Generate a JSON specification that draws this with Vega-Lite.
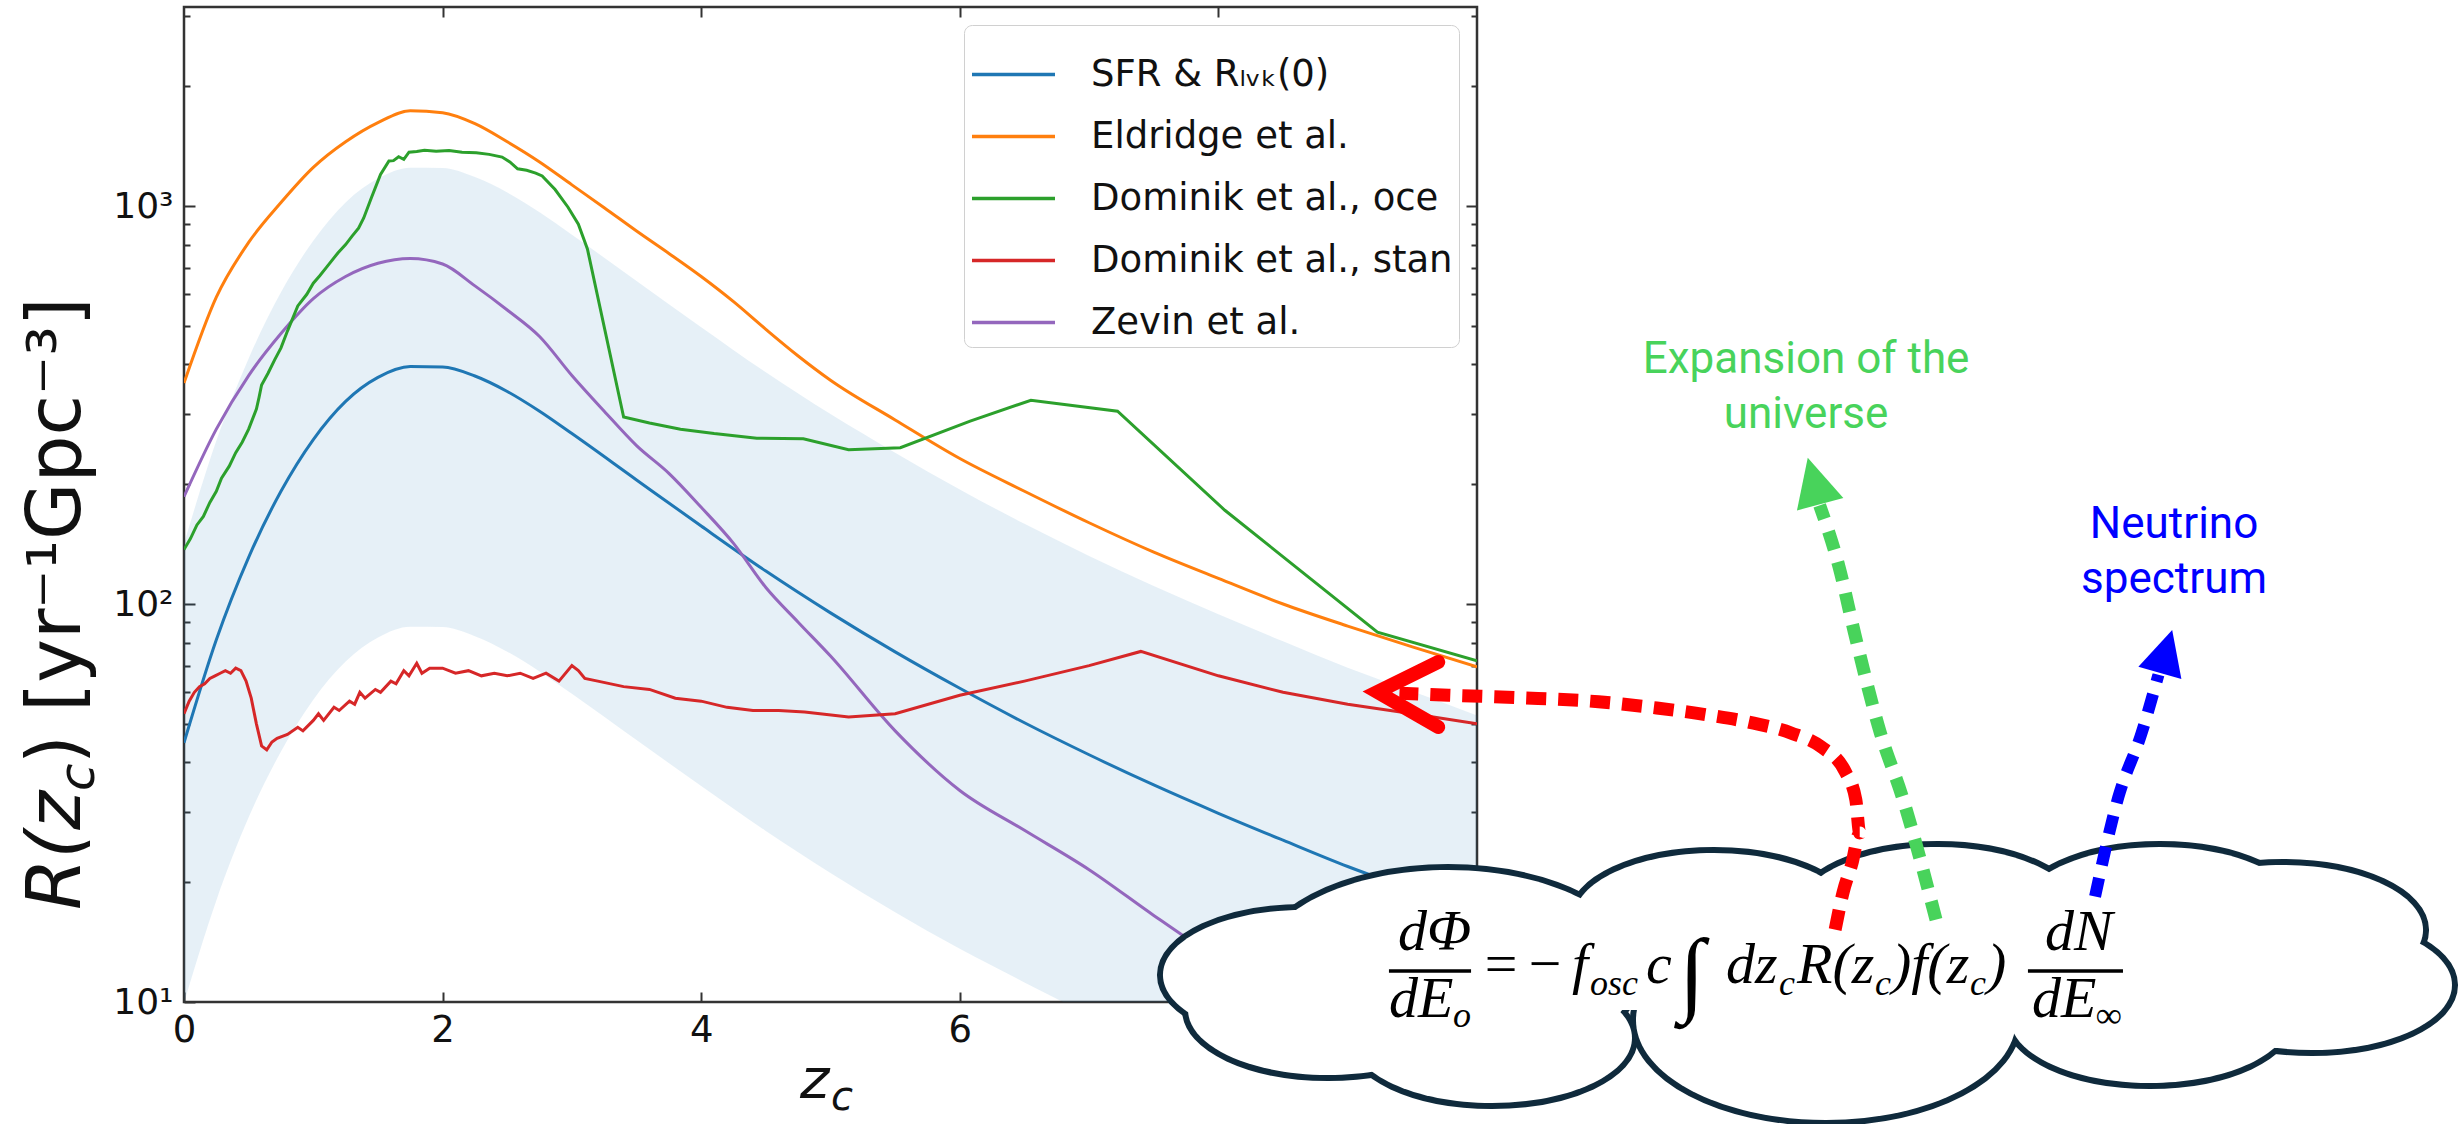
{
  "$schema": "https://vega.github.io/schema/vega-lite/v6.json",
  "width": 1293,
  "height": 995,
  "autosize": "none",
  "padding": {"left": 184, "top": 7, "right": 984, "bottom": 122},
  "background": "white",
  "config": {
    "view": {"stroke": "#333333", "strokeWidth": 2.5},
    "axis": {"grid": false}
  },
  "datasets": {
    "band": [
      {"z": 0, "lo": 9.95, "hi": 141.6}, {"z": 0.25, "lo": 18.0, "hi": 257}, {"z": 0.5, "lo": 29.1, "hi": 414},
      {"z": 0.75, "lo": 42.6, "hi": 607}, {"z": 1, "lo": 57.5, "hi": 818}, {"z": 1.25, "lo": 71.7, "hi": 1021},
      {"z": 1.5, "lo": 82.4, "hi": 1172}, {"z": 1.75, "lo": 87.7, "hi": 1248}, {"z": 2, "lo": 87.5, "hi": 1245},
      {"z": 2.25, "lo": 83.0, "hi": 1182}, {"z": 2.5, "lo": 75.9, "hi": 1081}, {"z": 2.75, "lo": 67.7, "hi": 964},
      {"z": 3, "lo": 59.5, "hi": 847}, {"z": 3.5, "lo": 45.5, "hi": 648}, {"z": 4, "lo": 34.9, "hi": 496},
      {"z": 4.5, "lo": 26.9, "hi": 382}, {"z": 5, "lo": 21.1, "hi": 300}, {"z": 5.5, "lo": 16.8, "hi": 240},
      {"z": 6, "lo": 13.6, "hi": 194}, {"z": 6.5, "lo": 11.2, "hi": 159}, {"z": 7, "lo": 9.28, "hi": 132},
      {"z": 7.5, "lo": 7.79, "hi": 111}, {"z": 8, "lo": 6.62, "hi": 94.2}, {"z": 8.5, "lo": 5.66, "hi": 80.6},
      {"z": 9, "lo": 4.86, "hi": 69.2}, {"z": 9.5, "lo": 4.24, "hi": 60.4}, {"z": 10, "lo": 3.69, "hi": 52.5}
    ],
    "series": [
      {"s": "SFR & Rₗᵥₖ(0)", "z": 0, "R": 44.8}, {"s": "SFR & Rₗᵥₖ(0)", "z": 0.25, "R": 81.3}, {"s": "SFR & Rₗᵥₖ(0)", "z": 0.5, "R": 131},
      {"s": "SFR & Rₗᵥₖ(0)", "z": 0.75, "R": 192}, {"s": "SFR & Rₗᵥₖ(0)", "z": 1, "R": 259}, {"s": "SFR & Rₗᵥₖ(0)", "z": 1.25, "R": 323},
      {"s": "SFR & Rₗᵥₖ(0)", "z": 1.5, "R": 371}, {"s": "SFR & Rₗᵥₖ(0)", "z": 1.75, "R": 395}, {"s": "SFR & Rₗᵥₖ(0)", "z": 2, "R": 394},
      {"s": "SFR & Rₗᵥₖ(0)", "z": 2.25, "R": 374}, {"s": "SFR & Rₗᵥₖ(0)", "z": 2.5, "R": 342}, {"s": "SFR & Rₗᵥₖ(0)", "z": 2.75, "R": 305},
      {"s": "SFR & Rₗᵥₖ(0)", "z": 3, "R": 268}, {"s": "SFR & Rₗᵥₖ(0)", "z": 3.5, "R": 205}, {"s": "SFR & Rₗᵥₖ(0)", "z": 4, "R": 157},
      {"s": "SFR & Rₗᵥₖ(0)", "z": 4.5, "R": 121}, {"s": "SFR & Rₗᵥₖ(0)", "z": 5, "R": 95}, {"s": "SFR & Rₗᵥₖ(0)", "z": 5.5, "R": 75.8},
      {"s": "SFR & Rₗᵥₖ(0)", "z": 6, "R": 61.4}, {"s": "SFR & Rₗᵥₖ(0)", "z": 6.5, "R": 50.3}, {"s": "SFR & Rₗᵥₖ(0)", "z": 7, "R": 41.8},
      {"s": "SFR & Rₗᵥₖ(0)", "z": 7.5, "R": 35.1}, {"s": "SFR & Rₗᵥₖ(0)", "z": 8, "R": 29.8}, {"s": "SFR & Rₗᵥₖ(0)", "z": 8.5, "R": 25.5},
      {"s": "SFR & Rₗᵥₖ(0)", "z": 9, "R": 21.9}, {"s": "SFR & Rₗᵥₖ(0)", "z": 9.5, "R": 19.1}, {"s": "SFR & Rₗᵥₖ(0)", "z": 10, "R": 16.6},

      {"s": "Eldridge et al.", "z": 0, "R": 359}, {"s": "Eldridge et al.", "z": 0.25, "R": 590}, {"s": "Eldridge et al.", "z": 0.5, "R": 810},
      {"s": "Eldridge et al.", "z": 0.75, "R": 1020}, {"s": "Eldridge et al.", "z": 1, "R": 1250}, {"s": "Eldridge et al.", "z": 1.25, "R": 1450},
      {"s": "Eldridge et al.", "z": 1.5, "R": 1620}, {"s": "Eldridge et al.", "z": 1.75, "R": 1735}, {"s": "Eldridge et al.", "z": 2, "R": 1715},
      {"s": "Eldridge et al.", "z": 2.25, "R": 1610}, {"s": "Eldridge et al.", "z": 2.5, "R": 1450}, {"s": "Eldridge et al.", "z": 2.75, "R": 1290},
      {"s": "Eldridge et al.", "z": 3, "R": 1130}, {"s": "Eldridge et al.", "z": 3.25, "R": 990}, {"s": "Eldridge et al.", "z": 3.5, "R": 865},
      {"s": "Eldridge et al.", "z": 3.75, "R": 760}, {"s": "Eldridge et al.", "z": 4, "R": 665}, {"s": "Eldridge et al.", "z": 4.25, "R": 575},
      {"s": "Eldridge et al.", "z": 4.5, "R": 490}, {"s": "Eldridge et al.", "z": 4.75, "R": 420}, {"s": "Eldridge et al.", "z": 5, "R": 365},
      {"s": "Eldridge et al.", "z": 5.5, "R": 290}, {"s": "Eldridge et al.", "z": 6, "R": 232}, {"s": "Eldridge et al.", "z": 6.5, "R": 192},
      {"s": "Eldridge et al.", "z": 7, "R": 160}, {"s": "Eldridge et al.", "z": 7.5, "R": 135}, {"s": "Eldridge et al.", "z": 8, "R": 116},
      {"s": "Eldridge et al.", "z": 8.5, "R": 100}, {"s": "Eldridge et al.", "z": 9, "R": 88}, {"s": "Eldridge et al.", "z": 9.5, "R": 78},
      {"s": "Eldridge et al.", "z": 10, "R": 69.5},

      {"s": "Dominik et al., oce", "z": 0, "R": 137}, {"s": "Dominik et al., oce", "z": 0.05, "R": 146}, {"s": "Dominik et al., oce", "z": 0.1, "R": 158},
      {"s": "Dominik et al., oce", "z": 0.15, "R": 166}, {"s": "Dominik et al., oce", "z": 0.2, "R": 180}, {"s": "Dominik et al., oce", "z": 0.25, "R": 192},
      {"s": "Dominik et al., oce", "z": 0.29, "R": 207}, {"s": "Dominik et al., oce", "z": 0.35, "R": 222}, {"s": "Dominik et al., oce", "z": 0.4, "R": 240},
      {"s": "Dominik et al., oce", "z": 0.45, "R": 255}, {"s": "Dominik et al., oce", "z": 0.5, "R": 275}, {"s": "Dominik et al., oce", "z": 0.56, "R": 309},
      {"s": "Dominik et al., oce", "z": 0.58, "R": 330}, {"s": "Dominik et al., oce", "z": 0.6, "R": 355}, {"s": "Dominik et al., oce", "z": 0.65, "R": 380},
      {"s": "Dominik et al., oce", "z": 0.7, "R": 410}, {"s": "Dominik et al., oce", "z": 0.75, "R": 440}, {"s": "Dominik et al., oce", "z": 0.8, "R": 485},
      {"s": "Dominik et al., oce", "z": 0.88, "R": 561}, {"s": "Dominik et al., oce", "z": 0.95, "R": 600}, {"s": "Dominik et al., oce", "z": 1.0, "R": 640},
      {"s": "Dominik et al., oce", "z": 1.05, "R": 668}, {"s": "Dominik et al., oce", "z": 1.1, "R": 700}, {"s": "Dominik et al., oce", "z": 1.19, "R": 762},
      {"s": "Dominik et al., oce", "z": 1.25, "R": 800}, {"s": "Dominik et al., oce", "z": 1.3, "R": 840}, {"s": "Dominik et al., oce", "z": 1.35, "R": 880},
      {"s": "Dominik et al., oce", "z": 1.39, "R": 933}, {"s": "Dominik et al., oce", "z": 1.45, "R": 1050}, {"s": "Dominik et al., oce", "z": 1.52, "R": 1200},
      {"s": "Dominik et al., oce", "z": 1.585, "R": 1297}, {"s": "Dominik et al., oce", "z": 1.62, "R": 1300}, {"s": "Dominik et al., oce", "z": 1.66, "R": 1330},
      {"s": "Dominik et al., oce", "z": 1.7, "R": 1310}, {"s": "Dominik et al., oce", "z": 1.74, "R": 1365}, {"s": "Dominik et al., oce", "z": 1.8, "R": 1370},
      {"s": "Dominik et al., oce", "z": 1.86, "R": 1380}, {"s": "Dominik et al., oce", "z": 1.95, "R": 1372}, {"s": "Dominik et al., oce", "z": 2.05, "R": 1378},
      {"s": "Dominik et al., oce", "z": 2.15, "R": 1365}, {"s": "Dominik et al., oce", "z": 2.26, "R": 1360}, {"s": "Dominik et al., oce", "z": 2.36, "R": 1348},
      {"s": "Dominik et al., oce", "z": 2.46, "R": 1327}, {"s": "Dominik et al., oce", "z": 2.52, "R": 1290}, {"s": "Dominik et al., oce", "z": 2.58, "R": 1240},
      {"s": "Dominik et al., oce", "z": 2.65, "R": 1230}, {"s": "Dominik et al., oce", "z": 2.72, "R": 1210}, {"s": "Dominik et al., oce", "z": 2.77, "R": 1190},
      {"s": "Dominik et al., oce", "z": 2.87, "R": 1100}, {"s": "Dominik et al., oce", "z": 2.97, "R": 993}, {"s": "Dominik et al., oce", "z": 3.05, "R": 900},
      {"s": "Dominik et al., oce", "z": 3.12, "R": 780}, {"s": "Dominik et al., oce", "z": 3.4, "R": 295}, {"s": "Dominik et al., oce", "z": 3.6, "R": 285},
      {"s": "Dominik et al., oce", "z": 3.84, "R": 275}, {"s": "Dominik et al., oce", "z": 4.1, "R": 268}, {"s": "Dominik et al., oce", "z": 4.43, "R": 261},
      {"s": "Dominik et al., oce", "z": 4.79, "R": 260}, {"s": "Dominik et al., oce", "z": 5.14, "R": 244}, {"s": "Dominik et al., oce", "z": 5.54, "R": 247},
      {"s": "Dominik et al., oce", "z": 6.08, "R": 288}, {"s": "Dominik et al., oce", "z": 6.55, "R": 325}, {"s": "Dominik et al., oce", "z": 7.22, "R": 305},
      {"s": "Dominik et al., oce", "z": 8.05, "R": 172}, {"s": "Dominik et al., oce", "z": 9.23, "R": 85}, {"s": "Dominik et al., oce", "z": 10, "R": 72},

      {"s": "Dominik et al., stan", "z": 0, "R": 53}, {"s": "Dominik et al., stan", "z": 0.04, "R": 57}, {"s": "Dominik et al., stan", "z": 0.08, "R": 60},
      {"s": "Dominik et al., stan", "z": 0.12, "R": 62}, {"s": "Dominik et al., stan", "z": 0.16, "R": 63}, {"s": "Dominik et al., stan", "z": 0.2, "R": 65},
      {"s": "Dominik et al., stan", "z": 0.24, "R": 66}, {"s": "Dominik et al., stan", "z": 0.28, "R": 67}, {"s": "Dominik et al., stan", "z": 0.32, "R": 68},
      {"s": "Dominik et al., stan", "z": 0.36, "R": 67}, {"s": "Dominik et al., stan", "z": 0.4, "R": 69}, {"s": "Dominik et al., stan", "z": 0.44, "R": 68},
      {"s": "Dominik et al., stan", "z": 0.48, "R": 64}, {"s": "Dominik et al., stan", "z": 0.52, "R": 58}, {"s": "Dominik et al., stan", "z": 0.56, "R": 50},
      {"s": "Dominik et al., stan", "z": 0.6, "R": 44}, {"s": "Dominik et al., stan", "z": 0.64, "R": 43}, {"s": "Dominik et al., stan", "z": 0.68, "R": 45},
      {"s": "Dominik et al., stan", "z": 0.72, "R": 46}, {"s": "Dominik et al., stan", "z": 0.8, "R": 47}, {"s": "Dominik et al., stan", "z": 0.88, "R": 49},
      {"s": "Dominik et al., stan", "z": 0.92, "R": 48}, {"s": "Dominik et al., stan", "z": 1.0, "R": 51}, {"s": "Dominik et al., stan", "z": 1.04, "R": 53},
      {"s": "Dominik et al., stan", "z": 1.08, "R": 51}, {"s": "Dominik et al., stan", "z": 1.16, "R": 55}, {"s": "Dominik et al., stan", "z": 1.2, "R": 54},
      {"s": "Dominik et al., stan", "z": 1.28, "R": 57}, {"s": "Dominik et al., stan", "z": 1.32, "R": 56}, {"s": "Dominik et al., stan", "z": 1.36, "R": 60},
      {"s": "Dominik et al., stan", "z": 1.4, "R": 58}, {"s": "Dominik et al., stan", "z": 1.48, "R": 61}, {"s": "Dominik et al., stan", "z": 1.52, "R": 60},
      {"s": "Dominik et al., stan", "z": 1.6, "R": 64}, {"s": "Dominik et al., stan", "z": 1.64, "R": 63}, {"s": "Dominik et al., stan", "z": 1.7, "R": 68},
      {"s": "Dominik et al., stan", "z": 1.74, "R": 66}, {"s": "Dominik et al., stan", "z": 1.8, "R": 71}, {"s": "Dominik et al., stan", "z": 1.84, "R": 67},
      {"s": "Dominik et al., stan", "z": 1.9, "R": 69}, {"s": "Dominik et al., stan", "z": 2.0, "R": 69}, {"s": "Dominik et al., stan", "z": 2.1, "R": 67},
      {"s": "Dominik et al., stan", "z": 2.2, "R": 68}, {"s": "Dominik et al., stan", "z": 2.3, "R": 66}, {"s": "Dominik et al., stan", "z": 2.4, "R": 67},
      {"s": "Dominik et al., stan", "z": 2.5, "R": 66}, {"s": "Dominik et al., stan", "z": 2.6, "R": 67}, {"s": "Dominik et al., stan", "z": 2.7, "R": 65},
      {"s": "Dominik et al., stan", "z": 2.8, "R": 67}, {"s": "Dominik et al., stan", "z": 2.9, "R": 64}, {"s": "Dominik et al., stan", "z": 3.0, "R": 70},
      {"s": "Dominik et al., stan", "z": 3.05, "R": 68}, {"s": "Dominik et al., stan", "z": 3.1, "R": 65}, {"s": "Dominik et al., stan", "z": 3.2, "R": 64},
      {"s": "Dominik et al., stan", "z": 3.4, "R": 62}, {"s": "Dominik et al., stan", "z": 3.6, "R": 61}, {"s": "Dominik et al., stan", "z": 3.8, "R": 58},
      {"s": "Dominik et al., stan", "z": 4.0, "R": 57}, {"s": "Dominik et al., stan", "z": 4.2, "R": 55}, {"s": "Dominik et al., stan", "z": 4.4, "R": 54},
      {"s": "Dominik et al., stan", "z": 4.6, "R": 54}, {"s": "Dominik et al., stan", "z": 4.8, "R": 53.5}, {"s": "Dominik et al., stan", "z": 5.14, "R": 52},
      {"s": "Dominik et al., stan", "z": 5.5, "R": 53}, {"s": "Dominik et al., stan", "z": 6.0, "R": 59}, {"s": "Dominik et al., stan", "z": 6.5, "R": 64},
      {"s": "Dominik et al., stan", "z": 7.0, "R": 70}, {"s": "Dominik et al., stan", "z": 7.4, "R": 76}, {"s": "Dominik et al., stan", "z": 8.0, "R": 66},
      {"s": "Dominik et al., stan", "z": 8.5, "R": 60}, {"s": "Dominik et al., stan", "z": 9.0, "R": 56}, {"s": "Dominik et al., stan", "z": 9.5, "R": 53},
      {"s": "Dominik et al., stan", "z": 10, "R": 50},

      {"s": "Zevin et al.", "z": 0, "R": 186}, {"s": "Zevin et al.", "z": 0.25, "R": 275}, {"s": "Zevin et al.", "z": 0.5, "R": 375},
      {"s": "Zevin et al.", "z": 0.75, "R": 478}, {"s": "Zevin et al.", "z": 1, "R": 585}, {"s": "Zevin et al.", "z": 1.25, "R": 665},
      {"s": "Zevin et al.", "z": 1.5, "R": 718}, {"s": "Zevin et al.", "z": 1.75, "R": 738}, {"s": "Zevin et al.", "z": 2, "R": 715},
      {"s": "Zevin et al.", "z": 2.25, "R": 630}, {"s": "Zevin et al.", "z": 2.5, "R": 548}, {"s": "Zevin et al.", "z": 2.75, "R": 470},
      {"s": "Zevin et al.", "z": 3, "R": 375}, {"s": "Zevin et al.", "z": 3.25, "R": 305}, {"s": "Zevin et al.", "z": 3.5, "R": 250},
      {"s": "Zevin et al.", "z": 3.75, "R": 213}, {"s": "Zevin et al.", "z": 4, "R": 175}, {"s": "Zevin et al.", "z": 4.25, "R": 142},
      {"s": "Zevin et al.", "z": 4.5, "R": 110}, {"s": "Zevin et al.", "z": 4.75, "R": 90}, {"s": "Zevin et al.", "z": 5, "R": 74},
      {"s": "Zevin et al.", "z": 5.5, "R": 48}, {"s": "Zevin et al.", "z": 6, "R": 34}, {"s": "Zevin et al.", "z": 6.5, "R": 27},
      {"s": "Zevin et al.", "z": 7, "R": 21.5}, {"s": "Zevin et al.", "z": 7.5, "R": 16.5}, {"s": "Zevin et al.", "z": 8, "R": 12.8},
      {"s": "Zevin et al.", "z": 8.5, "R": 10.2}, {"s": "Zevin et al.", "z": 9, "R": 8.2}
    ],
    "cloudS": [
      {"z": 8.654, "R": 11.69}, {"z": 8.848, "R": 9.548}, {"z": 10.116, "R": 8.12}, {"z": 15.205, "R": 9.117},
      {"z": 16.458, "R": 11.03}, {"z": 16.234, "R": 15.17}, {"z": 15.282, "R": 16.83}, {"z": 13.565, "R": 16.83},
      {"z": 11.833, "R": 16.26}
    ],
    "cloudB": [{"z": 9.776, "R": 12.03}, {"z": 12.699, "R": 9.01}],
    "cloudRect": [{"z": 9.018, "z2": 16.365, "R": 14.31, "R2": 9.548}],
    "eqMain": [
      {"t": "dΦ", "z": 9.389, "R": 13.51}, {"t": "dE", "z": 9.319, "R": 9.17},
      {"t": "=", "z": 10.03, "R": 11.16}, {"t": "−", "z": 10.37, "R": 11.16}, {"t": "f", "z": 10.735, "R": 11.16},
      {"t": "c", "z": 11.307, "R": 11.16}, {"t": "dz", "z": 11.926, "R": 11.16},
      {"t": "R(z", "z": 12.475, "R": 11.16}, {"t": ")f(z", "z": 13.209, "R": 11.16},
      {"t": ")", "z": 13.944, "R": 11.16}, {"t": "dN", "z": 14.393, "R": 13.51},
      {"t": "dE", "z": 14.292, "R": 9.17}
    ],
    "eqSub": [
      {"t": "o", "z": 9.814, "R": 8.65}, {"t": "osc", "z": 10.874, "R": 10.41},
      {"t": "c", "z": 12.335, "R": 10.41}, {"t": "c", "z": 13.078, "R": 10.41},
      {"t": "c", "z": 13.813, "R": 10.41}, {"t": "∞", "z": 14.787, "R": 8.65}
    ],
    "eqInt": [{"t": "∫", "z": 11.562, "R": 9.885}],
    "eqBars": [{"z": 9.319, "z2": 9.954, "R": 11.96}, {"z": 14.261, "z2": 14.996, "R": 11.96}],
    "arrR": [
      {"i": 0, "z": 12.77, "R": 15.2}, {"i": 1, "z": 12.83, "R": 18.8}, {"i": 2, "z": 12.9, "R": 22.3},
      {"i": 3, "z": 12.96, "R": 26.6}, {"i": 4, "z": 12.93, "R": 32.2}, {"i": 5, "z": 12.85, "R": 37.8},
      {"i": 6, "z": 12.66, "R": 43.8}, {"i": 7, "z": 12.43, "R": 47.4}, {"i": 8, "z": 12.14, "R": 50.2},
      {"i": 9, "z": 11.79, "R": 52.6}, {"i": 10, "z": 11.39, "R": 54.8}, {"i": 11, "z": 10.94, "R": 56.8},
      {"i": 12, "z": 10.36, "R": 58.1}, {"i": 13, "z": 9.78, "R": 59.0}, {"i": 14, "z": 9.4, "R": 59.7}
    ],
    "chev": [{"i": 0, "z": 9.7, "R": 71.5}, {"i": 1, "z": 9.23, "R": 60.1}, {"i": 2, "z": 9.7, "R": 49.1}],
    "arrG": [
      {"i": 0, "z": 13.55, "R": 16.1}, {"i": 1, "z": 13.29, "R": 32.7}, {"i": 2, "z": 13.12, "R": 47.4},
      {"i": 3, "z": 12.92, "R": 84.5}, {"i": 4, "z": 12.8, "R": 124}, {"i": 5, "z": 12.65, "R": 177}
    ],
    "arrB": [
      {"i": 0, "z": 14.78, "R": 18.4}, {"i": 1, "z": 14.96, "R": 32.7}, {"i": 2, "z": 15.14, "R": 47.4},
      {"i": 3, "z": 15.27, "R": 66.4}
    ],
    "headG": [{"z": 12.606, "R": 203.7}],
    "headB": [{"z": 15.329, "R": 76.0}],
    "txtG": [{"t": "Expansion of the", "z": 12.545, "R": 380.5}, {"t": "universe", "z": 12.545, "R": 276.8}],
    "txtB": [{"t": "Neutrino", "z": 15.391, "R": 146.5}, {"t": "spectrum", "z": 15.391, "R": 106.6}],
    "ttlYit": [{"t": "R(z", "z": -0.804, "R": 17.03}],
    "ttlYsub": [{"t": "c", "z": -0.696, "R": 33.9}],
    "ttlYup": [{"t": ") [yr⁻¹Gpc⁻³]", "z": -0.804, "R": 39.6}],
    "ttlX": [{"t": "z", "z": 4.764, "R": 5.74}],
    "ttlXsub": [{"t": "c", "z": 5.004, "R": 5.355}]
  },
  "layer": [
    {
      "data": {"name": "band"},
      "mark": {"type": "area", "color": "#1f77b4", "opacity": 0.11, "clip": true, "interpolate": "monotone"},
      "encoding": {
        "x": {"field": "z", "type": "quantitative", "scale": {"domain": [0, 10], "nice": false, "zero": false},
          "axis": {"orient": "bottom", "values": [0, 2, 4, 6, 8], "title": null, "domain": false, "tickSize": -10, "tickWidth": 2,
            "tickColor": "#333333", "labelPadding": 20, "labelFont": "DejaVu Sans", "labelFontSize": 37, "labelColor": "#111111",
            "labelFlush": false, "labelOverlap": false}},
        "y": {"field": "lo", "type": "quantitative", "scale": {"type": "log", "domain": [10, 3162.28], "nice": false},
          "axis": {"orient": "left", "values": [10, 20, 30, 40, 50, 60, 70, 80, 90, 100, 200, 300, 400, 500, 600, 700, 800, 900, 1000, 2000, 3000],
            "title": null, "domain": false,
            "tickSize": {"condition": {"test": "datum.value === 10 || datum.value === 100 || datum.value === 1000", "value": -11}, "value": -6},
            "tickWidth": 2, "tickColor": "#333333", "labelPadding": 22,
            "labelExpr": "datum.value === 10 ? '10¹' : datum.value === 100 ? '10²' : datum.value === 1000 ? '10³' : ''",
            "labelFont": "DejaVu Sans", "labelFontSize": 36, "labelColor": "#111111", "labelFlush": false, "labelOverlap": false}},
        "y2": {"field": "hi"}
      }
    },
    {
      "data": {"name": "band"},
      "mark": {"type": "point", "opacity": 0},
      "encoding": {
        "x": {"field": "z", "type": "quantitative", "scale": {"domain": [0, 10], "nice": false, "zero": false},
          "axis": {"orient": "top", "values": [2, 4, 6, 8], "title": null, "domain": false, "labels": false, "tickSize": -10, "tickWidth": 2, "tickColor": "#333333"}},
        "y": {"field": "hi", "type": "quantitative", "scale": {"type": "log", "domain": [10, 3162.28], "nice": false},
          "axis": {"orient": "right", "values": [10, 20, 30, 40, 50, 60, 70, 80, 90, 100, 200, 300, 400, 500, 600, 700, 800, 900, 1000, 2000, 3000],
            "title": null, "domain": false, "labels": false,
            "tickSize": {"condition": {"test": "datum.value === 10 || datum.value === 100 || datum.value === 1000", "value": -11}, "value": -6},
            "tickWidth": 2, "tickColor": "#333333"}}
      }
    },
    {
      "data": {"name": "series"},
      "transform": [{"filter": {"field": "s", "oneOf": ["SFR & Rₗᵥₖ(0)", "Eldridge et al.", "Zevin et al."]}}],
      "mark": {"type": "line", "strokeWidth": 3, "clip": true, "interpolate": "monotone"},
      "encoding": {
        "x": {"field": "z", "type": "quantitative", "scale": {"domain": [0, 10], "nice": false, "zero": false}, "axis": null},
        "y": {"field": "R", "type": "quantitative", "scale": {"type": "log", "domain": [10, 3162.28], "nice": false}, "axis": null},
        "color": {"field": "s", "type": "nominal",
          "scale": {"domain": ["SFR & Rₗᵥₖ(0)", "Eldridge et al.", "Dominik et al., oce", "Dominik et al., stan", "Zevin et al."],
            "range": ["#1f77b4", "#ff7f0e", "#2ca02c", "#d62728", "#9467bd"]},
          "legend": {"title": null, "orient": "top-right", "offset": 18, "labelFont": "DejaVu Sans", "labelFontSize": 37,
            "labelColor": "#111111", "symbolType": "stroke", "symbolSize": 6889, "symbolStrokeWidth": 3.5, "rowPadding": -8,
            "padding": 6, "fillColor": "#ffffff", "strokeColor": "#d0d0d0", "cornerRadius": 8, "labelOffset": 34, "labelLimit": 700}}
      }
    },
    {
      "data": {"name": "series"},
      "transform": [{"filter": {"field": "s", "oneOf": ["Dominik et al., oce", "Dominik et al., stan"]}}],
      "mark": {"type": "line", "strokeWidth": 3, "clip": true},
      "encoding": {
        "x": {"field": "z", "type": "quantitative", "scale": {"domain": [0, 10], "nice": false, "zero": false}, "axis": null},
        "y": {"field": "R", "type": "quantitative", "scale": {"type": "log", "domain": [10, 3162.28], "nice": false}, "axis": null},
        "color": {"field": "s", "type": "nominal",
          "scale": {"domain": ["SFR & Rₗᵥₖ(0)", "Eldridge et al.", "Dominik et al., oce", "Dominik et al., stan", "Zevin et al."],
            "range": ["#1f77b4", "#ff7f0e", "#2ca02c", "#d62728", "#9467bd"]},
          "legend": {"title": null, "orient": "top-right", "offset": 18, "labelFont": "DejaVu Sans", "labelFontSize": 37,
            "labelColor": "#111111", "symbolType": "stroke", "symbolSize": 6889, "symbolStrokeWidth": 3.5, "rowPadding": -8,
            "padding": 6, "fillColor": "#ffffff", "strokeColor": "#d0d0d0", "cornerRadius": 8, "labelOffset": 34, "labelLimit": 700}}
      }
    },
    {
      "data": {"name": "ttlYit"},
      "mark": {"type": "text", "font": "DejaVu Sans", "fontSize": 74, "fontStyle": "italic", "angle": 270, "align": "left", "baseline": "alphabetic", "color": "#111111"},
      "encoding": {
        "x": {"field": "z", "type": "quantitative", "scale": {"domain": [0, 10], "nice": false, "zero": false}, "axis": null},
        "y": {"field": "R", "type": "quantitative", "scale": {"type": "log", "domain": [10, 3162.28], "nice": false}, "axis": null},
        "text": {"field": "t"}
      }
    },
    {
      "data": {"name": "ttlYsub"},
      "mark": {"type": "text", "font": "DejaVu Sans", "fontSize": 50, "fontStyle": "italic", "angle": 270, "align": "left", "baseline": "alphabetic", "color": "#111111"},
      "encoding": {
        "x": {"field": "z", "type": "quantitative", "scale": {"domain": [0, 10], "nice": false, "zero": false}, "axis": null},
        "y": {"field": "R", "type": "quantitative", "scale": {"type": "log", "domain": [10, 3162.28], "nice": false}, "axis": null},
        "text": {"field": "t"}
      }
    },
    {
      "data": {"name": "ttlYup"},
      "mark": {"type": "text", "font": "DejaVu Sans", "fontSize": 74, "angle": 270, "align": "left", "baseline": "alphabetic", "color": "#111111"},
      "encoding": {
        "x": {"field": "z", "type": "quantitative", "scale": {"domain": [0, 10], "nice": false, "zero": false}, "axis": null},
        "y": {"field": "R", "type": "quantitative", "scale": {"type": "log", "domain": [10, 3162.28], "nice": false}, "axis": null},
        "text": {"field": "t"}
      }
    },
    {
      "data": {"name": "ttlX"},
      "mark": {"type": "text", "font": "DejaVu Sans", "fontSize": 56, "fontStyle": "italic", "align": "left", "baseline": "alphabetic", "color": "#111111"},
      "encoding": {
        "x": {"field": "z", "type": "quantitative", "scale": {"domain": [0, 10], "nice": false, "zero": false}, "axis": null},
        "y": {"field": "R", "type": "quantitative", "scale": {"type": "log", "domain": [10, 3162.28], "nice": false}, "axis": null},
        "text": {"field": "t"}
      }
    },
    {
      "data": {"name": "ttlXsub"},
      "mark": {"type": "text", "font": "DejaVu Sans", "fontSize": 40, "fontStyle": "italic", "align": "left", "baseline": "alphabetic", "color": "#111111"},
      "encoding": {
        "x": {"field": "z", "type": "quantitative", "scale": {"domain": [0, 10], "nice": false, "zero": false}, "axis": null},
        "y": {"field": "R", "type": "quantitative", "scale": {"type": "log", "domain": [10, 3162.28], "nice": false}, "axis": null},
        "text": {"field": "t"}
      }
    },
    {
      "data": {"name": "cloudS"},
      "mark": {"type": "point", "shape": "M-1,0C-1,-0.2564,-0.5523,-0.4643,0,-0.4643C0.5523,-0.4643,1,-0.2564,1,0C1,0.2564,0.5523,0.4643,0,0.4643C-0.5523,0.4643,-1,0.2564,-1,0Z",
        "size": 78400, "filled": true, "fill": "#ffffff", "stroke": "#0f2a3c", "strokeWidth": 12, "opacity": 1, "fillOpacity": 1, "strokeOpacity": 1},
      "encoding": {
        "x": {"field": "z", "type": "quantitative", "scale": {"domain": [0, 10], "nice": false, "zero": false}, "axis": null},
        "y": {"field": "R", "type": "quantitative", "scale": {"type": "log", "domain": [10, 3162.28], "nice": false}, "axis": null}
      }
    },
    {
      "data": {"name": "cloudB"},
      "mark": {"type": "point", "shape": "M-1,0C-1,-0.2907,-0.5523,-0.5263,0,-0.5263C0.5523,-0.5263,1,-0.2907,1,0C1,0.2907,0.5523,0.5263,0,0.5263C-0.5523,0.5263,-1,0.2907,-1,0Z",
        "size": 144400, "filled": true, "fill": "#ffffff", "stroke": "#0f2a3c", "strokeWidth": 12, "opacity": 1, "fillOpacity": 1, "strokeOpacity": 1},
      "encoding": {
        "x": {"field": "z", "type": "quantitative", "scale": {"domain": [0, 10], "nice": false, "zero": false}, "axis": null},
        "y": {"field": "R", "type": "quantitative", "scale": {"type": "log", "domain": [10, 3162.28], "nice": false}, "axis": null}
      }
    },
    {
      "data": {"name": "cloudS"},
      "mark": {"type": "point", "shape": "M-1,0C-1,-0.2564,-0.5523,-0.4643,0,-0.4643C0.5523,-0.4643,1,-0.2564,1,0C1,0.2564,0.5523,0.4643,0,0.4643C-0.5523,0.4643,-1,0.2564,-1,0Z",
        "size": 78400, "filled": true, "fill": "#ffffff", "strokeWidth": 0, "opacity": 1, "fillOpacity": 1},
      "encoding": {
        "x": {"field": "z", "type": "quantitative", "scale": {"domain": [0, 10], "nice": false, "zero": false}, "axis": null},
        "y": {"field": "R", "type": "quantitative", "scale": {"type": "log", "domain": [10, 3162.28], "nice": false}, "axis": null}
      }
    },
    {
      "data": {"name": "cloudB"},
      "mark": {"type": "point", "shape": "M-1,0C-1,-0.2907,-0.5523,-0.5263,0,-0.5263C0.5523,-0.5263,1,-0.2907,1,0C1,0.2907,0.5523,0.5263,0,0.5263C-0.5523,0.5263,-1,0.2907,-1,0Z",
        "size": 144400, "filled": true, "fill": "#ffffff", "strokeWidth": 0, "opacity": 1, "fillOpacity": 1},
      "encoding": {
        "x": {"field": "z", "type": "quantitative", "scale": {"domain": [0, 10], "nice": false, "zero": false}, "axis": null},
        "y": {"field": "R", "type": "quantitative", "scale": {"type": "log", "domain": [10, 3162.28], "nice": false}, "axis": null}
      }
    },
    {
      "data": {"name": "cloudRect"},
      "mark": {"type": "rect", "fill": "#ffffff", "opacity": 1},
      "encoding": {
        "x": {"field": "z", "type": "quantitative", "scale": {"domain": [0, 10], "nice": false, "zero": false}, "axis": null},
        "x2": {"field": "z2"},
        "y": {"field": "R", "type": "quantitative", "scale": {"type": "log", "domain": [10, 3162.28], "nice": false}, "axis": null},
        "y2": {"field": "R2"}
      }
    },
    {
      "data": {"name": "eqMain"},
      "mark": {"type": "text", "font": "Liberation Serif", "fontSize": 58, "fontStyle": "italic", "align": "left", "baseline": "alphabetic", "color": "#000000"},
      "encoding": {
        "x": {"field": "z", "type": "quantitative", "scale": {"domain": [0, 10], "nice": false, "zero": false}, "axis": null},
        "y": {"field": "R", "type": "quantitative", "scale": {"type": "log", "domain": [10, 3162.28], "nice": false}, "axis": null},
        "text": {"field": "t"}
      }
    },
    {
      "data": {"name": "eqSub"},
      "mark": {"type": "text", "font": "Liberation Serif", "fontSize": 36, "fontStyle": "italic", "align": "left", "baseline": "alphabetic", "color": "#000000"},
      "encoding": {
        "x": {"field": "z", "type": "quantitative", "scale": {"domain": [0, 10], "nice": false, "zero": false}, "axis": null},
        "y": {"field": "R", "type": "quantitative", "scale": {"type": "log", "domain": [10, 3162.28], "nice": false}, "axis": null},
        "text": {"field": "t"}
      }
    },
    {
      "data": {"name": "eqInt"},
      "mark": {"type": "text", "font": "Liberation Serif", "fontSize": 94, "align": "left", "baseline": "alphabetic", "color": "#000000"},
      "encoding": {
        "x": {"field": "z", "type": "quantitative", "scale": {"domain": [0, 10], "nice": false, "zero": false}, "axis": null},
        "y": {"field": "R", "type": "quantitative", "scale": {"type": "log", "domain": [10, 3162.28], "nice": false}, "axis": null},
        "text": {"field": "t"}
      }
    },
    {
      "data": {"name": "eqBars"},
      "mark": {"type": "rule", "color": "#000000", "strokeWidth": 3.5},
      "encoding": {
        "x": {"field": "z", "type": "quantitative", "scale": {"domain": [0, 10], "nice": false, "zero": false}, "axis": null},
        "x2": {"field": "z2"},
        "y": {"field": "R", "type": "quantitative", "scale": {"type": "log", "domain": [10, 3162.28], "nice": false}, "axis": null}
      }
    },
    {
      "data": {"name": "arrR"},
      "mark": {"type": "line", "color": "#ff0000", "strokeWidth": 13, "strokeDash": [20, 12], "interpolate": "monotone"},
      "encoding": {
        "x": {"field": "z", "type": "quantitative", "scale": {"domain": [0, 10], "nice": false, "zero": false}, "axis": null},
        "y": {"field": "R", "type": "quantitative", "scale": {"type": "log", "domain": [10, 3162.28], "nice": false}, "axis": null},
        "order": {"field": "i", "type": "quantitative"}
      }
    },
    {
      "data": {"name": "chev"},
      "mark": {"type": "line", "color": "#ff0000", "strokeWidth": 14, "strokeCap": "round", "strokeJoin": "miter"},
      "encoding": {
        "x": {"field": "z", "type": "quantitative", "scale": {"domain": [0, 10], "nice": false, "zero": false}, "axis": null},
        "y": {"field": "R", "type": "quantitative", "scale": {"type": "log", "domain": [10, 3162.28], "nice": false}, "axis": null},
        "order": {"field": "i", "type": "quantitative"}
      }
    },
    {
      "data": {"name": "arrG"},
      "mark": {"type": "line", "color": "#48d35b", "strokeWidth": 13, "strokeDash": [19, 13], "interpolate": "monotone"},
      "encoding": {
        "x": {"field": "z", "type": "quantitative", "scale": {"domain": [0, 10], "nice": false, "zero": false}, "axis": null},
        "y": {"field": "R", "type": "quantitative", "scale": {"type": "log", "domain": [10, 3162.28], "nice": false}, "axis": null},
        "order": {"field": "i", "type": "quantitative"}
      }
    },
    {
      "data": {"name": "arrB"},
      "mark": {"type": "line", "color": "#0000ff", "strokeWidth": 12, "strokeDash": [19, 13], "interpolate": "monotone"},
      "encoding": {
        "x": {"field": "z", "type": "quantitative", "scale": {"domain": [0, 10], "nice": false, "zero": false}, "axis": null},
        "y": {"field": "R", "type": "quantitative", "scale": {"type": "log", "domain": [10, 3162.28], "nice": false}, "axis": null},
        "order": {"field": "i", "type": "quantitative"}
      }
    },
    {
      "data": {"name": "headG"},
      "mark": {"type": "point", "shape": "M0,-1L1,1L-1,1Z", "size": 2304, "angle": 345, "filled": true, "color": "#48d35b", "opacity": 1},
      "encoding": {
        "x": {"field": "z", "type": "quantitative", "scale": {"domain": [0, 10], "nice": false, "zero": false}, "axis": null},
        "y": {"field": "R", "type": "quantitative", "scale": {"type": "log", "domain": [10, 3162.28], "nice": false}, "axis": null}
      }
    },
    {
      "data": {"name": "headB"},
      "mark": {"type": "point", "shape": "M0,-1L1,1L-1,1Z", "size": 2000, "angle": 16, "filled": true, "color": "#0000ff", "opacity": 1},
      "encoding": {
        "x": {"field": "z", "type": "quantitative", "scale": {"domain": [0, 10], "nice": false, "zero": false}, "axis": null},
        "y": {"field": "R", "type": "quantitative", "scale": {"type": "log", "domain": [10, 3162.28], "nice": false}, "axis": null}
      }
    },
    {
      "data": {"name": "txtG"},
      "mark": {"type": "text", "font": "Roboto", "fontSize": 44, "align": "center", "baseline": "alphabetic", "color": "#48d35b"},
      "encoding": {
        "x": {"field": "z", "type": "quantitative", "scale": {"domain": [0, 10], "nice": false, "zero": false}, "axis": null},
        "y": {"field": "R", "type": "quantitative", "scale": {"type": "log", "domain": [10, 3162.28], "nice": false}, "axis": null},
        "text": {"field": "t"}
      }
    },
    {
      "data": {"name": "txtB"},
      "mark": {"type": "text", "font": "Roboto", "fontSize": 44, "align": "center", "baseline": "alphabetic", "color": "#0000ff"},
      "encoding": {
        "x": {"field": "z", "type": "quantitative", "scale": {"domain": [0, 10], "nice": false, "zero": false}, "axis": null},
        "y": {"field": "R", "type": "quantitative", "scale": {"type": "log", "domain": [10, 3162.28], "nice": false}, "axis": null},
        "text": {"field": "t"}
      }
    }
  ],
  "resolve": {"axis": {"x": "independent", "y": "independent"}}
}
